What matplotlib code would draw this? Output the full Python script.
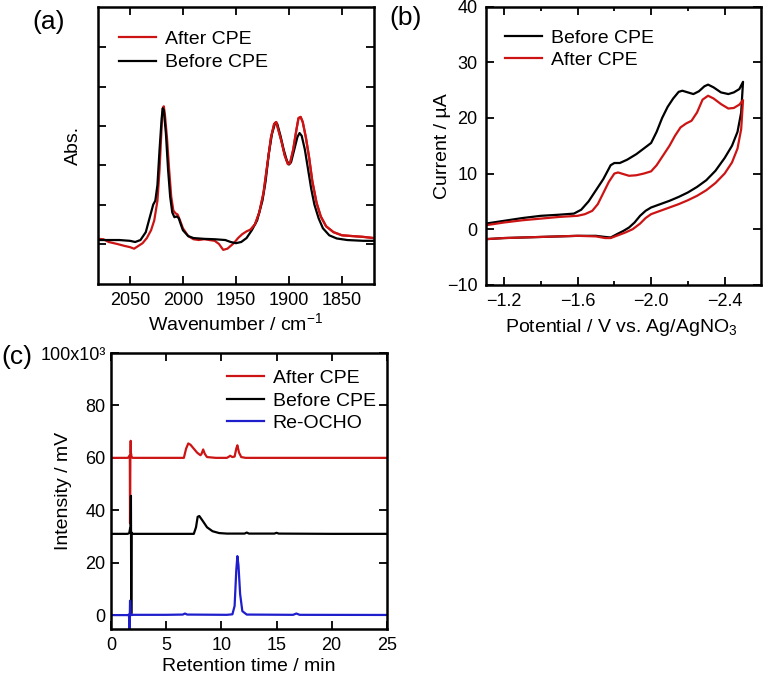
import matplotlib
matplotlib.use("Agg")
import matplotlib.pyplot as plt

plt.rcParams['font.family'] = ['Liberation Sans', 'DejaVu Sans']
plt.rcParams['mathtext.fontset'] = 'custom'
plt.rcParams['mathtext.rm'] = 'Liberation Sans'
plt.rcParams['mathtext.it'] = 'Liberation Sans'

RED = '#cc1414'
BLACK = '#000000'
BLUE = '#1e1ecc'

# ---- (a) IR spectra ----
ir_before_x = [2080, 2060, 2050, 2045, 2040, 2035, 2031, 2028, 2026, 2024, 2022, 2020, 2019,
               2018, 2016, 2014, 2012, 2010, 2008, 2006, 2004, 2002, 2000, 1995, 1990, 1980,
               1970, 1960, 1955, 1950, 1945, 1940, 1935, 1930, 1925, 1922, 1919, 1916, 1913,
               1911, 1908, 1905, 1902, 1900, 1898, 1895, 1892, 1890, 1888, 1885, 1882, 1879,
               1876, 1872, 1868, 1862, 1855, 1845, 1830, 1820]
ir_before_y = [0.1, 0.1, 0.08, 0.05, 0.1, 0.3, 0.7, 1.0, 1.1, 1.5, 2.4, 3.2, 3.45,
               3.4, 2.8, 1.9, 1.2, 0.8, 0.68, 0.7, 0.66, 0.5, 0.35, 0.2, 0.15, 0.13,
               0.12, 0.1, 0.05, 0.02, 0.05, 0.15, 0.35, 0.6, 1.1, 1.6, 2.3, 2.8, 3.08,
               3.05, 2.75, 2.4, 2.12, 2.02, 2.08, 2.4, 2.72, 2.82, 2.75, 2.4, 1.9, 1.4,
               1.0, 0.65, 0.4, 0.22, 0.14, 0.1, 0.08, 0.08]

ir_after_x = [2080, 2075, 2070, 2062, 2055, 2050, 2046, 2042, 2038, 2034, 2030, 2027, 2024,
              2022, 2020, 2019, 2018, 2017, 2015, 2013, 2011, 2009, 2007, 2005, 2003, 2000,
              1995, 1990, 1985, 1980, 1975, 1970, 1966, 1962, 1958, 1955, 1952, 1948, 1944,
              1940, 1936, 1932, 1928, 1924, 1920, 1917, 1914, 1912, 1910, 1907, 1904, 1901,
              1899, 1896, 1893, 1891, 1889, 1887, 1884, 1881, 1878, 1874, 1870, 1865, 1858,
              1850, 1840, 1830, 1820]
ir_after_y = [0.13, 0.12, 0.05, 0.0, -0.05, -0.08, -0.12, -0.05, 0.02, 0.15, 0.35, 0.6, 1.1,
              1.9, 3.0, 3.45, 3.5, 3.3, 2.7, 1.9, 1.2, 0.85, 0.78, 0.75, 0.62, 0.4,
              0.2, 0.12, 0.1, 0.12, 0.1, 0.08, 0.0, -0.15, -0.12, -0.05, 0.02, 0.15, 0.25,
              0.32, 0.37, 0.5, 0.8, 1.3, 2.1, 2.7, 3.05, 3.1, 2.9, 2.6, 2.25, 2.03,
              2.05, 2.4, 2.9, 3.2, 3.23, 3.1, 2.7, 2.2, 1.6, 1.05, 0.7, 0.45, 0.3,
              0.22, 0.2, 0.18, 0.15]

# ---- (b) cyclic voltammograms ----
cv_before_v = [-1.10, -1.2, -1.3, -1.4, -1.5, -1.58, -1.62, -1.66, -1.70, -1.74, -1.78, -1.80,
               -1.83, -1.87, -1.92, -1.96, -2.00, -2.03, -2.06, -2.09, -2.12, -2.15, -2.17,
               -2.20, -2.23, -2.26, -2.29, -2.31, -2.34, -2.38, -2.42, -2.45, -2.48, -2.50,
               -2.49, -2.47, -2.44, -2.40, -2.35, -2.30, -2.25, -2.20, -2.15, -2.10, -2.05,
               -2.00, -1.97, -1.94, -1.91, -1.88, -1.85, -1.82, -1.78, -1.75, -1.70, -1.60,
               -1.50, -1.40, -1.30, -1.20, -1.10]
cv_before_i = [1.0, 1.5, 2.0, 2.4, 2.6, 2.8, 3.5, 5.0, 7.0, 9.0, 11.5, 11.9,
               11.9, 12.5, 13.5, 14.5, 15.5, 17.5, 20.0, 22.0, 23.5, 24.7, 24.9,
               24.6, 24.3, 24.8, 25.7, 26.0, 25.5, 24.6, 24.3, 24.6, 25.2, 26.5,
               21.0, 17.5, 15.0, 12.8, 10.5, 8.8, 7.6, 6.6, 5.8, 5.1, 4.5,
               3.9, 3.3, 2.4, 1.2, 0.3, -0.3, -0.8, -1.5, -1.4, -1.2, -1.2,
               -1.3, -1.4, -1.5, -1.6, -1.8]

cv_after_v = [-1.10, -1.2, -1.3, -1.4, -1.5, -1.60, -1.64, -1.68, -1.71, -1.74, -1.77, -1.80,
              -1.82, -1.85, -1.88, -1.92, -1.96, -2.00, -2.03, -2.06, -2.10, -2.13, -2.16,
              -2.19, -2.22, -2.25, -2.28, -2.31, -2.34, -2.38, -2.42, -2.45, -2.48, -2.50,
              -2.49, -2.47, -2.44, -2.40, -2.35, -2.30, -2.25, -2.20, -2.15, -2.10, -2.05,
              -2.00, -1.97, -1.94, -1.90, -1.86, -1.82, -1.78, -1.75, -1.70, -1.60, -1.50,
              -1.40, -1.30, -1.20, -1.10]
cv_after_i = [0.7, 1.2, 1.6, 1.9, 2.2, 2.4, 2.7, 3.3, 4.5, 6.5, 8.5, 10.0,
              10.2, 9.9, 9.6, 9.7, 10.0, 10.4, 11.5, 13.0, 15.0, 16.8, 18.3,
              19.0, 19.5, 21.0, 23.3, 24.0, 23.5, 22.5, 21.7, 21.8, 22.4, 23.2,
              18.0, 14.5, 12.0, 10.0, 8.3, 7.0, 6.0, 5.2, 4.5, 3.9, 3.3,
              2.7, 2.0, 1.0, 0.0, -0.6, -1.1, -1.6, -1.6, -1.3, -1.2, -1.3,
              -1.4, -1.5, -1.6, -1.8]

# ---- (c) chromatograms (intensity in 10^3 mV) ----
lc_after_t = [0, 1.5, 1.65, 1.7, 1.72, 1.75, 1.78, 1.8, 1.85, 1.95, 2.1, 3, 5, 6.6, 6.8, 7.0,
              7.2, 7.5, 7.8, 8.1, 8.2, 8.35, 8.5, 8.7, 9.5, 10.5, 10.7, 10.8, 11.0, 11.2,
              11.35, 11.45, 11.6, 11.8, 12.2, 15, 20, 25]
lc_after_i = [60, 60, 60.5, 61, 35, 61, 66.5, 62, 60.5, 60, 60, 60, 60, 60, 63.5, 65.5,
              65, 63.5, 62, 61, 61.5, 63.2, 61.5, 60.3, 60, 60, 60.5, 60.8, 60.3, 60.5,
              63.5, 64.8, 62, 60.3, 60, 60, 60, 60]

lc_before_t = [0, 1.5, 1.65, 1.72, 1.76, 1.8, 1.83, 1.86, 1.9, 2.0, 2.3, 5, 7.5, 7.7, 7.85,
               8.0, 8.3, 8.7, 9.2, 9.8, 10.5, 12.1, 12.3, 12.5, 14.8, 15.0, 15.2, 20, 25]
lc_before_i = [31, 31, 31.3, 33, 32, 45.5, 0.5, 31.5, 31.1, 31, 31, 31, 31, 33.5, 37.5,
               37.8, 36, 33.5, 32, 31.3, 31.1, 31.1, 31.5, 31.1, 31.1, 31.4, 31.1, 31, 31]

lc_ref_t = [0, 1.5, 1.62, 1.68, 1.72, 1.78, 1.85, 2.0, 5, 6.5, 6.7, 6.9, 10.5, 11.0, 11.2,
            11.35, 11.45, 11.55, 11.7, 11.9, 12.3, 16.5, 16.8, 17.1, 25]
lc_ref_i = [0, 0, 0.2, -5.5, 5.5, 0.6, 0, 0.1, 0.1, 0.2, 0.6, 0.2, 0.1, 0.3, 3.5,
            17, 22.5, 19, 8, 1.5, 0.2, 0.1, 0.6, 0.1, 0.05]

c_yticks = [0, 20, 40, 60, 80, 100]
c_yticklabels = ['0', '20', '40', '60', '80', '100x10\u00b3']

TICK_FS = 13
LABEL_FS = 14
LW = 1.6


def style_axes(ax):
    for s in ax.spines.values():
        s.set_linewidth(1.8)
    ax.tick_params(which='both', direction='in', top=True, right=True, width=1.3,
                   labelsize=TICK_FS, pad=6)
    ax.tick_params(which='major', length=5.8)
    ax.tick_params(which='minor', length=3)


fig = plt.figure(figsize=(7.66, 6.78), dpi=100)

# panel (a)
ax1 = fig.add_axes([0.128, 0.581, 0.360, 0.409])
ax1.plot(ir_after_x, ir_after_y, color=RED, lw=LW, label='After CPE')
ax1.plot(ir_before_x, ir_before_y, color=BLACK, lw=LW, label='Before CPE')
# red on top over the right-hand bands
ax1.plot(ir_after_x[40:], ir_after_y[40:], color=RED, lw=LW)
ax1.set_xlim(2080, 1820)
ax1.set_ylim(-1.02, 6.03)
ax1.set_xticks([2050, 2000, 1950, 1900, 1850])
ax1.set_yticks([0, 1, 2, 3, 4, 5])
style_axes(ax1)
ax1.tick_params(axis='y', labelleft=False)
ax1.set_xlabel('Wavenumber / cm$^{-1}$', fontsize=LABEL_FS)
ax1.set_ylabel('Abs.', fontsize=LABEL_FS)
ax1.xaxis.set_label_coords(0.5, -0.10)
ax1.yaxis.set_label_coords(-0.058, 0.5)
ax1.legend(loc='upper left', bbox_to_anchor=(0.077, 0.915), frameon=False, fontsize=LABEL_FS,
           handlelength=1.9, handletextpad=0.45, labelspacing=0.3, borderpad=0, borderaxespad=0)

# panel (b)
ax2 = fig.add_axes([0.634, 0.580, 0.360, 0.410])
ax2.plot(cv_before_v, cv_before_i, color=BLACK, lw=LW, label='Before CPE')
ax2.plot(cv_after_v, cv_after_i, color=RED, lw=LW, label='After CPE')
ax2.set_xlim(-1.1, -2.6)
ax2.set_ylim(-10, 40)
ax2.set_xticks([-1.2, -1.6, -2.0, -2.4])
ax2.set_xticks([-1.4, -1.8, -2.2], minor=True)
ax2.set_xticklabels(['\u22121.2', '\u22121.6', '\u22122.0', '\u22122.4'])
ax2.set_yticks([-10, 0, 10, 20, 30, 40])
ax2.set_yticklabels(['\u221210', '0', '10', '20', '30', '40'])
style_axes(ax2)
ax2.set_xlabel('Potential / V vs. Ag/AgNO$_3$', fontsize=LABEL_FS)
ax2.set_ylabel('Current / \u00b5A', fontsize=LABEL_FS)
ax2.xaxis.set_label_coords(0.49, -0.115)
ax2.yaxis.set_label_coords(-0.125, 0.5)
ax2.legend(loc='upper left', bbox_to_anchor=(0.07, 0.92), frameon=False, fontsize=LABEL_FS,
           handlelength=1.9, handletextpad=0.45, labelspacing=0.22, borderpad=0, borderaxespad=0)

# panel (c)
ax3 = fig.add_axes([0.145, 0.0723, 0.360, 0.407])
ax3.plot(lc_after_t, lc_after_i, color=RED, lw=LW, label='After CPE')
ax3.plot(lc_before_t, lc_before_i, color=BLACK, lw=LW, label='Before CPE')
ax3.plot(lc_ref_t, lc_ref_i, color=BLUE, lw=LW, label='Re-OCHO')
ax3.set_xlim(0, 25)
ax3.set_ylim(-5.3, 100)
ax3.set_xticks([0, 5, 10, 15, 20, 25])
ax3.set_yticks(c_yticks)
ax3.set_yticklabels(c_yticklabels)
style_axes(ax3)
ax3.tick_params(axis='y', pad=4)
ax3.set_xlabel('Retention time / min', fontsize=LABEL_FS)
ax3.set_ylabel('Intensity / mV', fontsize=LABEL_FS)
ax3.xaxis.set_label_coords(0.5, -0.105)
ax3.yaxis.set_label_coords(-0.14, 0.5)
ax3.legend(loc='upper left', bbox_to_anchor=(0.42, 0.94), frameon=False, fontsize=LABEL_FS,
           handlelength=1.9, handletextpad=0.45, labelspacing=0.25, borderpad=0, borderaxespad=0)

fig.text(32 / 766, 1 - 22 / 678, '(a)', fontsize=19, va='center', ha='left')
fig.text(389 / 766, 1 - 18 / 678, '(b)', fontsize=19, va='center', ha='left')
fig.text(1 / 766, 1 - 357 / 678, '(c)', fontsize=19, va='center', ha='left')

fig.savefig('out.png', dpi=100)
